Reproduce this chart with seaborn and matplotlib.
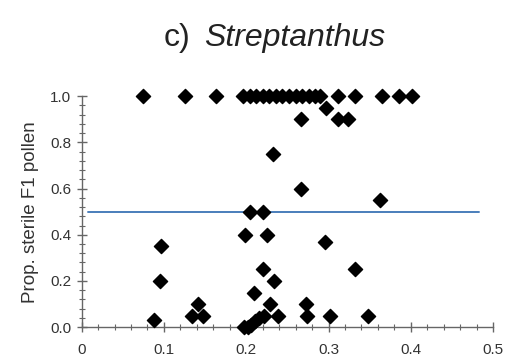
import matplotlib
matplotlib.use("Agg")
import matplotlib.pyplot as plt
from matplotlib.ticker import MultipleLocator, FixedLocator
import seaborn as sns
import pandas as pd

# Genetic distance between parents vs. proportion of sterile F1 pollen
distance = [
    # sterility = 1.0
    0.075, 0.126, 0.163, 0.196, 0.204, 0.212, 0.220, 0.228, 0.236, 0.244,
    0.252, 0.260, 0.268, 0.276, 0.284, 0.290, 0.311, 0.332, 0.365, 0.385, 0.401,
    # intermediate sterility
    0.297, 0.267, 0.311, 0.324, 0.232, 0.266, 0.363, 0.204, 0.220,
    0.198, 0.225, 0.296, 0.096, 0.220, 0.332, 0.095, 0.234, 0.209,
    # low sterility
    0.141, 0.229, 0.273, 0.134, 0.147, 0.238, 0.274, 0.302, 0.348, 0.088,
    0.197, 0.202, 0.206, 0.211, 0.216, 0.221,
]
sterility = [
    1.0, 1.0, 1.0, 1.0, 1.0, 1.0, 1.0, 1.0, 1.0, 1.0,
    1.0, 1.0, 1.0, 1.0, 1.0, 1.0, 1.0, 1.0, 1.0, 1.0, 1.0,
    0.95, 0.90, 0.90, 0.90, 0.75, 0.60, 0.55, 0.50, 0.50,
    0.40, 0.40, 0.37, 0.35, 0.25, 0.25, 0.20, 0.20, 0.15,
    0.10, 0.10, 0.10, 0.05, 0.05, 0.05, 0.05, 0.05, 0.05, 0.03,
    0.0, 0.0, 0.01, 0.025, 0.04, 0.05,
]
threshold = 0.5
threshold_span = [0.008, 0.483]
x_ticks = [0, 0.1, 0.2, 0.3, 0.4, 0.5]
x_labels = ["0", "0.1", "0.2", "0.3", "0.4", "0.5"]
y_ticks = [0.0, 0.2, 0.4, 0.6, 0.8, 1.0]
y_labels = ["0.0", "0.2", "0.4", "0.6", "0.8", "1.0"]

sns.set_theme(style="white")
plt.rcParams["font.family"] = ["Liberation Sans", "DejaVu Sans"]

df = pd.DataFrame({"distance": distance, "sterility": sterility})
line_df = pd.DataFrame({"distance": threshold_span,
                        "sterility": [threshold, threshold]})

fig = plt.figure(figsize=(5.10, 3.56), dpi=100)
ax = fig.add_axes([0.160, 0.081, 0.807, 0.649])

sns.lineplot(data=line_df, x="distance", y="sterility", ax=ax,
             color="#4a7ebb", linewidth=1.4, zorder=2)
sns.scatterplot(data=df, x="distance", y="sterility", ax=ax, marker="D",
                color="black", edgecolor="black", linewidth=1.0, s=52,
                zorder=3, clip_on=False)

ax.set_xlim(0, 0.5)
ax.set_ylim(0, 1.0)
ax.xaxis.set_major_locator(FixedLocator(x_ticks))
ax.set_xticklabels(x_labels)
ax.yaxis.set_major_locator(FixedLocator(y_ticks))
ax.set_yticklabels(y_labels)
ax.xaxis.set_minor_locator(MultipleLocator(0.02))
ax.yaxis.set_minor_locator(MultipleLocator(0.04))

axis_grey = "#666666"
for side in ["top", "right"]:
    ax.spines[side].set_visible(False)
for side in ["left", "bottom"]:
    ax.spines[side].set_color(axis_grey)
    ax.spines[side].set_linewidth(1.0)

ax.tick_params(which="major", direction="inout", length=7, width=1.0,
               color=axis_grey, labelsize=11, labelcolor="#333333")
ax.tick_params(which="minor", direction="inout", length=4, width=0.8,
               color=axis_grey)
ax.tick_params(axis="x", which="major", pad=8)
ax.tick_params(axis="y", which="major", pad=4)
ax.tick_params(left=True, bottom=True, which="both")

ax.set_xlabel("")
ax.set_ylabel("Prop. sterile F1 pollen", fontsize=13.5, color="#333333",
              labelpad=8)

fig.text(0.320, 0.893, "c)", fontsize=23, ha="left", va="center",
         color="#222222")
fig.text(0.400, 0.893, "Streptanthus", fontsize=23, style="italic",
         ha="left", va="center", color="#222222")

fig.savefig("out.png", dpi=100)
